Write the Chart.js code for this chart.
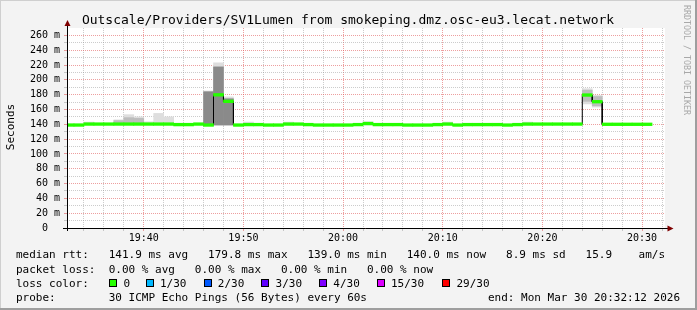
<!DOCTYPE html>
<html>
<head>
<meta charset="utf-8">
<script src="https://cdn.jsdelivr.net/npm/chart.js@4.4.1/dist/chart.umd.min.js"></script>
<style>
  html, body { margin: 0; padding: 0; background: #f3f3f3; }
  canvas { display: block; }
</style>
</head>
<body>
<canvas id="smokeChart" width="697" height="310"></canvas>
<script>
// one bin per minute, start times
var binStart = [
  '19:32','19:33','19:34','19:35','19:36','19:37','19:38','19:39','19:40','19:41',
  '19:42','19:43','19:44','19:45','19:46','19:47','19:48','19:49','19:50','19:51',
  '19:52','19:53','19:54','19:55','19:56','19:57','19:58','19:59','20:00','20:01',
  '20:02','20:03','20:04','20:05','20:06','20:07','20:08','20:09','20:10','20:11',
  '20:12','20:13','20:14','20:15','20:16','20:17','20:18','20:19','20:20','20:21',
  '20:22','20:23','20:24','20:25','20:26','20:27','20:28','20:29','20:30','20:31',
  '20:32'
];
// median rtt in ms (null = no data)
var median = [
  139, 139, 140.3, 140.3, 140.3, 140.3, 140.3, 140.3, 140.3, 140.3,
  140.3, 139.6, 139.6, 140.3, 139, 179.8, 171, 139, 139.6, 139.6,
  139, 139, 140.3, 140.3, 139.6, 139, 139, 139, 139, 139.6,
  141, 139.6, 139.6, 139.6, 139, 139, 139, 139.6, 140.3, 139,
  139.6, 139.6, 139.6, 139.6, 139, 139.6, 140.3, 140.3, 140.3, 140.3,
  140.3, 140.3, 179.5, 170.5, 140, 140, 140, 140, 140, null,
  null
];
// smoke (spread of the pings)
var smokeBins = ['19:34','19:37','19:38','19:39','19:40','19:41','19:42','19:46','19:47','19:48','19:50','19:54','20:02','20:10','20:18','20:24','20:25'];
var smokeLow  = [139.5, 139.5, 139.5, 139.5, 139.5, 139.5, 139.5, 139, 139, 139, 139, 139, 139, 139, 139, 167.5, 163.3];
var smokeHigh = [143, 146, 153, 150, 143.4, 154.7, 150, 185, 223, 177, 143, 143, 143.5, 143, 143, 188, 179];
var midBins = ['19:37','19:38','19:39','20:24','20:25'];
var midLow  = [140, 140, 140, 171, 165];
var midHigh = [145, 149, 148, 186, 177.5];
var coreBins = ['19:46','19:47','19:48'];
var coreLow  = [139, 139, 139];
var coreHigh = [184, 217.5, 174.5];

var yTickValues = [0,10,20,30,40,50,60,70,80,90,100,110,120,130,140,150,160,170,180,190,200,210,220,230,240,250,260];
var xTickLabels = ['19:34','19:36','19:38','19:40','19:42','19:44','19:46','19:48','19:50','19:52','19:54','19:56','19:58',
  '20:00','20:02','20:04','20:06','20:08','20:10','20:12','20:14','20:16','20:18','20:20','20:22','20:24','20:26','20:28','20:30','20:32'];

var lossLabels = ['0', '1/30', '2/30', '3/30', '4/30', '15/30', '29/30'];
var lossColors = ['#26ff00', '#00b8ff', '#0059ff', '#5e00ff', '#7e00ff', '#dd00ff', '#ff0000'];

function toMin(s) {
  var p = s.split(':');
  return (parseInt(p[0], 10) - 19) * 60 + parseInt(p[1], 10);
}
function fmtMin(v) {
  var h = 19 + Math.floor(v / 60), m = v % 60;
  return h + ':' + (m < 10 ? '0' : '') + m;
}
function bandData(bins, lo, hi) {
  var out = [];
  for (var i = 0; i < bins.length; i++) {
    out.push({ x: toMin(bins[i]) + 0.5, y: [lo[i], hi[i]] });
  }
  return out;
}

var greenData = [], lineData = [];
for (var i = 0; i < binStart.length; i++) {
  var s = toMin(binStart[i]);
  if (median[i] === null) {
    lineData.push({ x: s, y: null });
    continue;
  }
  greenData.push({ x: s + 0.5, y: [median[i] - 1.8, median[i] + 1.8] });
  lineData.push({ x: s, y: median[i] });
  lineData.push({ x: s + 1, y: median[i] });
}

var MONO = '"DejaVu Sans Mono", monospace';

var rrdLook = {
  id: 'rrdLook',
  beforeDraw: function (chart) {
    var c = chart.ctx, a = chart.chartArea, w = chart.width, h = chart.height;
    c.save();
    c.fillStyle = '#f3f3f3';
    c.fillRect(0, 0, w, h);
    c.fillStyle = '#cfcfcf';
    c.fillRect(0, 0, w, 1);
    c.fillRect(0, 0, 1, h);
    c.fillStyle = '#9e9e9e';
    c.fillRect(0, h - 2, w, 2);
    c.fillRect(w - 2, 0, 2, h);
    c.fillStyle = '#ffffff';
    c.fillRect(a.left, a.top, a.right - a.left, a.bottom - a.top);
    c.restore();
  },
  afterDraw: function (chart) {
    var c = chart.ctx, a = chart.chartArea;
    c.save();

    // axes + arrows
    c.strokeStyle = '#000';
    c.lineWidth = 1;
    c.beginPath();
    c.moveTo(a.left + 0.5, a.bottom + 3);
    c.lineTo(a.left + 0.5, a.top - 3);
    c.moveTo(a.left - 4, a.bottom + 0.5);
    c.lineTo(a.right + 3, a.bottom + 0.5);
    c.stroke();
    c.fillStyle = '#7f0000';
    c.beginPath();
    c.moveTo(a.left + 0.5, a.top - 8);
    c.lineTo(a.left - 2.5, a.top - 2);
    c.lineTo(a.left + 3.5, a.top - 2);
    c.closePath();
    c.fill();
    c.beginPath();
    c.moveTo(a.right + 8.5, a.bottom + 0.5);
    c.lineTo(a.right + 2.5, a.bottom - 2.5);
    c.lineTo(a.right + 2.5, a.bottom + 3.5);
    c.closePath();
    c.fill();

    // title
    c.fillStyle = '#000';
    c.font = '13px ' + MONO;
    c.textAlign = 'center';
    c.textBaseline = 'alphabetic';
    c.fillText('Outscale/Providers/SV1Lumen from smokeping.dmz.osc-eu3.lecat.network', 348, 24);

    // vertical unit label
    c.save();
    c.translate(14, 127);
    c.rotate(-Math.PI / 2);
    c.font = '11px ' + MONO;
    c.textAlign = 'center';
    c.fillText('Seconds', 0, 0);
    c.restore();

    // watermark
    c.save();
    c.translate(684, 60);
    c.rotate(Math.PI / 2);
    c.font = '8.3px ' + MONO;
    c.fillStyle = '#a8a8a8';
    c.textAlign = 'center';
    c.fillText('RRDTOOL / TOBI OETIKER', 0, 0);
    c.restore();

    // legend
    c.font = '11px ' + MONO;
    c.textAlign = 'left';
    c.fillStyle = '#000';
    c.fillText('median rtt:   141.9 ms avg   179.8 ms max   139.0 ms min   140.0 ms now   8.9 ms sd   15.9    am/s', 16, 258.3);
    c.fillText('packet loss:  0.00 % avg   0.00 % max   0.00 % min   0.00 % now', 16, 272.5);
    c.fillText('loss color:', 16, 286.7);
    var boxX = [109, 146, 204, 261, 319, 377, 442];
    var txtX = [123.6, 160, 217.8, 275.6, 333.3, 391, 456.4];
    for (var k = 0; k < lossLabels.length; k++) {
      c.fillStyle = '#000';
      c.fillRect(boxX[k], 279, 8, 8);
      c.fillStyle = lossColors[k];
      c.fillRect(boxX[k] + 1, 280, 6, 6);
      c.fillStyle = '#000';
      c.fillText(lossLabels[k], txtX[k], 286.7);
    }
    c.fillText('probe:        30 ICMP Echo Pings (56 Bytes) every 60s', 16, 300.9);
    c.textAlign = 'right';
    c.fillText('end: Mon Mar 30 20:32:12 2026', 680, 300.9);
    c.restore();
  }
};

var gridGray = 'rgba(143,143,143,0.45)';
var gridRed = 'rgba(222,80,80,0.55)';

var ctx = document.getElementById('smokeChart').getContext('2d');
var smokeChart = new Chart(ctx, {
  type: 'bar',
  data: {
    datasets: [
      { type: 'bar', data: greenData, backgroundColor: '#26ff00', borderWidth: 0,
        grouped: false, barPercentage: 1, categoryPercentage: 1, order: 0 },
      { type: 'line', data: lineData, borderColor: '#000', borderWidth: 1,
        pointRadius: 0, fill: false, tension: 0, spanGaps: false, order: 1 },
      { type: 'bar', data: bandData(coreBins, coreLow, coreHigh), backgroundColor: '#8a8a8a', borderWidth: 0,
        grouped: false, barPercentage: 1, categoryPercentage: 1, order: 2 },
      { type: 'bar', data: bandData(midBins, midLow, midHigh), backgroundColor: '#bdbdbd', borderWidth: 0,
        grouped: false, barPercentage: 1, categoryPercentage: 1, order: 3 },
      { type: 'bar', data: bandData(smokeBins, smokeLow, smokeHigh), backgroundColor: '#dedede', borderWidth: 0,
        grouped: false, barPercentage: 1, categoryPercentage: 1, order: 4 }
    ]
  },
  options: {
    responsive: false,
    animation: false,
    devicePixelRatio: 1,
    events: [],
    layout: { padding: { top: 28, right: 32, left: 0, bottom: 0 } },
    plugins: { legend: { display: false }, tooltip: { enabled: false }, title: { display: false } },
    scales: {
      x: {
        type: 'linear',
        min: 32.3,
        max: 92.3,
        offset: false,
        afterBuildTicks: function (scale) {
          scale.ticks = xTickLabels.map(function (t) { return { value: toMin(t) }; });
        },
        afterFit: function (scale) { scale.height = 82; },
        grid: {
          offset: false,
          drawTicks: true,
          tickLength: 3,
          color: function (c) { return c.tick && c.tick.value % 10 === 0 ? gridRed : gridGray; },
          tickColor: function (c) { return c.tick && c.tick.value % 10 === 0 ? gridRed : gridGray; }
        },
        border: { display: false, dash: [1, 1] },
        ticks: {
          autoSkip: false,
          maxRotation: 0,
          padding: 1,
          color: '#000',
          font: { family: 'DejaVu Sans Mono', size: 10 },
          callback: function (v) { return v % 10 === 0 ? fmtMin(v) : ''; }
        }
      },
      y: {
        min: 0,
        max: 270,
        afterBuildTicks: function (scale) {
          scale.ticks = yTickValues.map(function (v) { return { value: v }; });
        },
        afterFit: function (scale) { scale.width = 67; },
        grid: {
          drawTicks: true,
          tickLength: 3,
          color: function (c) { return c.tick && c.tick.value % 20 === 0 ? gridRed : gridGray; },
          tickColor: function (c) { return c.tick && c.tick.value % 20 === 0 ? gridRed : gridGray; }
        },
        border: { display: false, dash: [1, 1] },
        ticks: {
          autoSkip: false,
          padding: 4,
          color: '#000',
          font: { family: 'DejaVu Sans Mono', size: 10 },
          callback: function (v) {
            if (v % 20 !== 0) return '';
            return v === 0 ? '0  ' : v + ' m';
          }
        }
      }
    }
  },
  plugins: [rrdLook]
});
</script>
</body>
</html>
